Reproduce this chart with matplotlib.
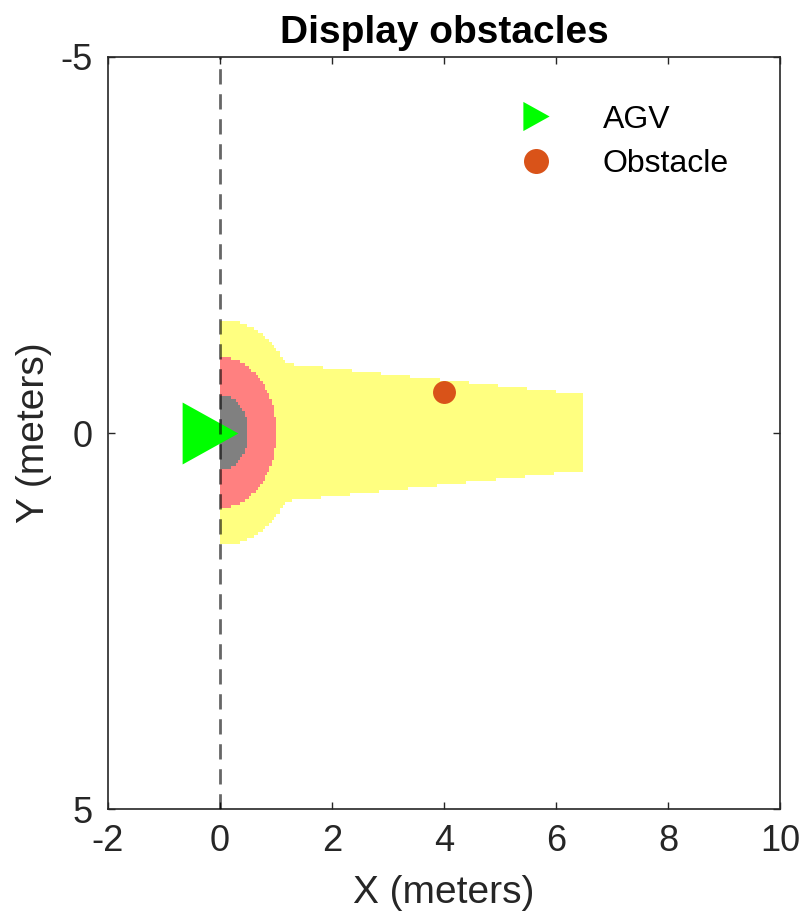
import numpy as np
import matplotlib
matplotlib.use("Agg")
import matplotlib.pyplot as plt
from matplotlib.lines import Line2D

# ---------------- data ----------------
title = "Display obstacles"
x_label = "X (meters)"
y_label = "Y (meters)"
x_limits = [-2, 10]
y_limits = [5, -5]          # reversed Y axis
x_ticks = [-2, 0, 2, 4, 6, 8, 10]
y_ticks = [-5, 0, 5]

legend_labels = ["AGV", "Obstacle"]
agv_x = [-0.17]
agv_y = [0.0]
obstacle_x = [4.0]
obstacle_y = [-0.55]

# safety zones (half discs in front of the AGV, plus a forward corridor)
zone_radii = [1.5, 1.0, 0.5]                    # warning, slow, stop
zone_colors = [(1, 1, 0), (1, 0, 0), (0, 0, 0)]
zone_alpha = 0.5
corridor_x = [0.0, 6.5]
corridor_half_width = [1.0, 0.5]
grid_res = 0.04

# ---------------- figure ----------------
plt.rcParams['font.family'] = ['Liberation Sans', 'DejaVu Sans']
plt.rcParams['axes.unicode_minus'] = False
fig = plt.figure(figsize=(8.02, 9.22), dpi=100)
ax = fig.add_axes([108 / 802, 113 / 922, 672 / 802, 752 / 922])

# occupancy-style raster of the zones
xe = np.arange(x_limits[0], x_limits[1] + grid_res / 2, grid_res)
ye = np.arange(min(y_limits), max(y_limits) + grid_res / 2, grid_res)
xc = (xe[:-1] + xe[1:]) / 2
yc = (ye[:-1] + ye[1:]) / 2
X, Y = np.meshgrid(xc, yc)
R = np.hypot(X, Y)
img = np.zeros(X.shape + (4,))
for i, (r, col) in enumerate(zip(zone_radii, zone_colors)):
    mask = (R <= r) & (X >= 0)
    if i == 0:
        hw = np.interp(X, corridor_x, corridor_half_width)
        mask |= (X >= corridor_x[0]) & (X <= corridor_x[1]) & (np.abs(Y) <= hw)
    img[mask, :3] = col
    img[mask, 3] = zone_alpha
ax.imshow(img, extent=[xe[0], xe[-1], ye[0], ye[-1]], origin='lower',
          aspect='auto', interpolation='nearest', zorder=1)

# AGV marker (triangle pointing right)
tri = [(-0.45, -0.5), (0.45, 0.0), (-0.45, 0.5)]
ax.plot(agv_x, agv_y, linestyle='none', marker=tri, markersize=44.6,
        color=(0, 1, 0), markeredgewidth=0, zorder=2)

# vertical dashed line at x = 0
ax.axvline(0, color='black', alpha=0.6, linewidth=2.0, dashes=(5.5, 3.5), zorder=3)

# obstacle
ax.plot(obstacle_x, obstacle_y, linestyle='none', marker='o', markersize=16.5,
        color=(0.85, 0.325, 0.098), markeredgewidth=0, zorder=4)

ax.set_xlim(x_limits)
ax.set_ylim(y_limits)
ax.set_xticks(x_ticks)
ax.set_yticks(y_ticks)
ax.tick_params(direction='in', top=True, right=True, length=5, width=1,
               labelsize=26, colors=(0.15, 0.15, 0.15))
ax.tick_params(axis='x', pad=11)
ax.tick_params(axis='y', pad=11)
for s in ax.spines.values():
    s.set_color((0.15, 0.15, 0.15))
    s.set_linewidth(1.2)

ax.set_xlabel(x_label, fontsize=28, color=(0.15, 0.15, 0.15), labelpad=11)
ax.set_ylabel(y_label, fontsize=28, color=(0.15, 0.15, 0.15), labelpad=6)
ax.set_title(title, fontsize=28, fontweight='bold', pad=10)

handles = [
    Line2D([], [], linestyle='none', marker=tri, markersize=21, color=(0, 1, 0),
           markeredgewidth=0),
    Line2D([], [], linestyle='none', marker='o', markersize=18,
           color=(0.85, 0.325, 0.098), markeredgewidth=0),
]
ax.legend(handles, legend_labels, loc='upper right', bbox_to_anchor=(0.967, 0.975),
          frameon=False, fontsize=23, handlelength=1.2, handletextpad=1.5,
          labelspacing=0.45)

fig.savefig("out.png", dpi=100)
